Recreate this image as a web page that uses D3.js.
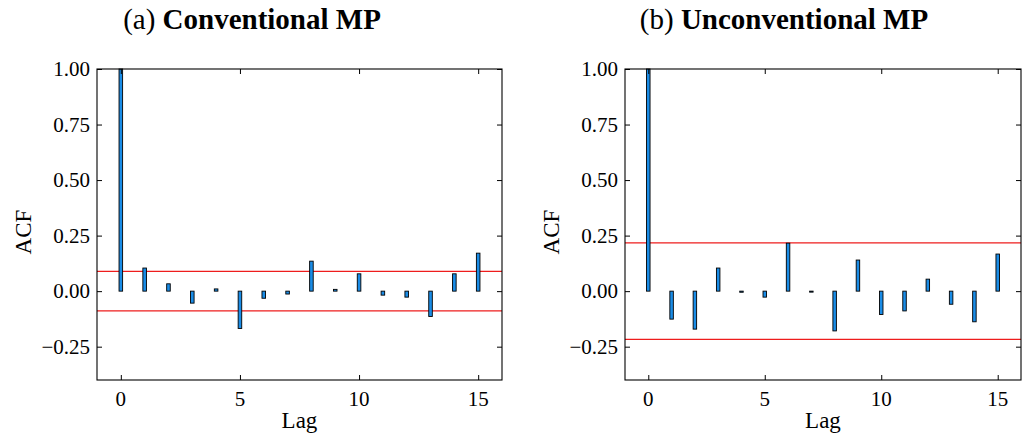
<!DOCTYPE html>
<html>
<head>
<meta charset="utf-8">
<script src="https://cdn.jsdelivr.net/npm/d3@7"></script>
<style>
  body { margin: 0; background: #fff; }
  svg { font-family: "Liberation Serif", "DejaVu Serif", serif; }
</style>
</head>
<body>
<div id="chart"></div>
<script>
// Data
const lags = [0, 1, 2, 3, 4, 5, 6, 7, 8, 9, 10, 11, 12, 13, 14, 15];
const acfConventional = [1.0, 0.104, 0.033, -0.054, 0.010, -0.168, -0.032, -0.013,
    0.135, 0.008, 0.078, -0.018, -0.027, -0.114, 0.078, 0.171];
const acfUnconventional = [1.0, -0.126, -0.171, 0.104, -0.005, -0.027, 0.216, -0.003,
    -0.179, 0.140, -0.105, -0.089, 0.054, -0.059, -0.138, 0.167];
const confConventional = 0.089;
const confUnconventional = 0.217;
const xTicks = [0, 5, 10, 15];
const yTicks = [-0.25, 0.0, 0.25, 0.5, 0.75, 1.0];

const width = 1022;
const height = 438;

const svg = d3.select("#chart").append("svg")
    .attr("width", width)
    .attr("height", height);

const panels = [
    { label: "(a) ", title: "Conventional MP", values: acfConventional, conf: confConventional,
      left: 97, right: 502, titleX: 252 },
    { label: "(b) ", title: "Unconventional MP", values: acfUnconventional, conf: confUnconventional,
      left: 625, right: 1021, titleX: 784 }
];

const plotTop = 69, plotBottom = 380;

panels.forEach(p => {
    const g = svg.append("g");

    const x = d3.scaleLinear().domain([-1, 16]).range([p.left, p.right]);
    const y = d3.scaleLinear().domain([-0.4, 1.0]).range([plotBottom, plotTop]);

    // title
    const t = g.append("text")
        .attr("x", p.titleX)
        .attr("y", 29)
        .attr("text-anchor", "middle")
        .attr("font-size", 29)
        .attr("fill", "#000");
    t.append("tspan").text(p.label);
    t.append("tspan").attr("font-weight", "bold").text(p.title);

    // confidence lines
    [p.conf, -p.conf].forEach(c => {
        g.append("line")
            .attr("x1", p.left).attr("x2", p.right)
            .attr("y1", y(c)).attr("y2", y(c))
            .attr("stroke", "#ee1c1c")
            .attr("stroke-width", 1.2);
    });

    // bars
    const bw = 0.15;
    g.append("g")
        .selectAll("rect")
        .data(lags.map((l, i) => ({ lag: l, v: p.values[i] })))
        .join("rect")
        .attr("x", d => x(d.lag - bw / 2))
        .attr("width", d => x(d.lag + bw / 2) - x(d.lag - bw / 2))
        .attr("y", d => y(Math.max(0, d.v)))
        .attr("height", d => Math.max(1, Math.abs(y(d.v) - y(0))))
        .attr("fill", "#1a8ce6")
        .attr("stroke", "#000")
        .attr("stroke-width", 0.9);

    // tick marks, inside on all four sides
    const tickLen = 5;
    const fmt = d => d < 0 ? "\u2212" + d3.format(".2f")(-d) : d3.format(".2f")(d);

    [
        [d3.axisBottom(x).tickValues(xTicks), plotBottom, true],
        [d3.axisTop(x).tickValues(xTicks), plotTop, true],
        [d3.axisLeft(y).tickValues(yTicks), p.left, false],
        [d3.axisRight(y).tickValues(yTicks), p.right, false]
    ].forEach(([ax, pos, horiz]) => {
        const a = g.append("g")
            .attr("transform", horiz ? `translate(0,${pos})` : `translate(${pos},0)`)
            .call(ax.tickSizeInner(-tickLen).tickSizeOuter(0).tickFormat(""));
        a.select(".domain").remove();
        a.selectAll("line").attr("stroke", "#000");
    });

    // tick labels
    g.append("g")
        .selectAll("text")
        .data(xTicks)
        .join("text")
        .attr("x", d => x(d))
        .attr("y", plotBottom + 26)
        .attr("text-anchor", "middle")
        .style("font-family", "'Liberation Serif', serif")
        .style("font-size", "21px")
        .text(d => d);

    g.append("g")
        .selectAll("text")
        .data(yTicks)
        .join("text")
        .attr("x", p.left - 7)
        .attr("y", d => y(d) + 7)
        .attr("text-anchor", "end")
        .style("font-family", "'Liberation Serif', serif")
        .style("font-size", "21px")
        .text(fmt);

    g.append("rect")
        .attr("x", p.left).attr("y", plotTop)
        .attr("width", p.right - p.left).attr("height", plotBottom - plotTop)
        .attr("fill", "none")
        .attr("stroke", "#000")
        .attr("stroke-width", 1.1);

    // axis labels
    g.append("text")
        .attr("x", (p.left + p.right) / 2)
        .attr("y", 428)
        .attr("text-anchor", "middle")
        .attr("font-size", 23)
        .text("Lag");
    g.append("text")
        .attr("transform", `translate(${p.left - 66},232) rotate(-90)`)
        .attr("text-anchor", "middle")
        .attr("font-size", 23)
        .text("ACF");
});
</script>
</body>
</html>
